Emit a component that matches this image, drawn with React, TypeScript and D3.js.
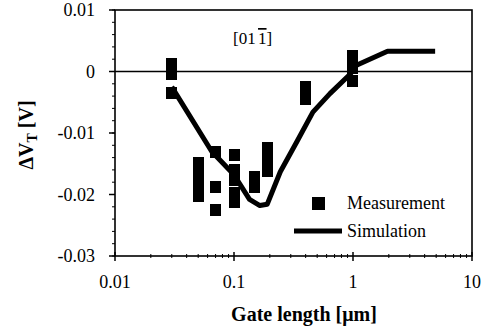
import { useEffect, useRef } from "react";
import * as d3 from "d3";

// measured threshold shift, one entry per square marker
const measGate = [
  0.03, 0.03, 0.03,
  0.05, 0.05, 0.05, 0.05,
  0.07, 0.07, 0.07,
  0.1, 0.1, 0.1, 0.1, 0.1,
  0.15, 0.15,
  0.19, 0.19, 0.19,
  0.4, 0.4,
  1, 1, 1,
];
const measDVt = [
  0.0013, -0.0004, -0.0035,
  -0.0148, -0.0165, -0.0185, -0.0203,
  -0.0131, -0.0188, -0.0225,
  -0.0136, -0.016, -0.0177, -0.0197, -0.0213,
  -0.0172, -0.0187,
  -0.0124, -0.0142, -0.0162,
  -0.0025, -0.0045,
  0.0025, 0.0005, -0.0015,
];

// simulated curve
const simGate = [0.03, 0.065, 0.1, 0.135, 0.165, 0.19, 0.245, 0.34, 0.46, 0.64, 0.95, 1.07, 1.95, 4.9];
const simDVt = [-0.0025, -0.013, -0.0168, -0.0208, -0.0218, -0.0216, -0.0163, -0.0113, -0.0066, -0.0036, -0.0004, 0.001, 0.0033, 0.0033];

const xTicks = [0.01, 0.1, 1, 10];
const xTickLabels = ["0.01", "0.1", "1", "10"];
const yTicks = [0.01, 0, -0.01, -0.02, -0.03];
const yTickLabels = ["0.01", "0", "-0.01", "-0.02", "-0.03"];

const FONT = "'Liberation Serif', 'Times New Roman', serif";

export default function App() {
  const ref = useRef<SVGSVGElement | null>(null);

  useEffect(() => {
    if (!ref.current) return;
    const svg = d3.select(ref.current);
    svg.selectAll("*").remove();

    const left = 115, right = 472, top = 10, bottom = 256;

    const x = d3.scaleLog().domain([0.01, 10]).range([left, right]);
    const y = d3.scaleLinear().domain([-0.03, 0.01]).range([bottom, top]);

    svg.append("rect").attr("width", 484).attr("height", 328).attr("fill", "#fff");

    const g = svg.append("g").attr("stroke", "#000").attr("fill", "none");

    // y minor ticks (every 0.002) and major ticks, outside on the left
    d3.range(-0.03, 0.0101, 0.002).forEach((v) => {
      g.append("line")
        .attr("x1", left - 3).attr("x2", left)
        .attr("y1", y(v)).attr("y2", y(v))
        .attr("stroke-width", 1);
    });
    yTicks.forEach((v) => {
      g.append("line")
        .attr("x1", left - 6).attr("x2", left)
        .attr("y1", y(v)).attr("y2", y(v))
        .attr("stroke-width", 1.5);
    });

    // x minor and major ticks
    [0.01, 0.1, 1].forEach((dec) => {
      d3.range(2, 10).forEach((m) => {
        const v = dec * m;
        g.append("line")
          .attr("x1", x(v)).attr("x2", x(v))
          .attr("y1", bottom - 2).attr("y2", bottom + 2)
          .attr("stroke-width", 1);
      });
    });
    xTicks.forEach((v) => {
      g.append("line")
        .attr("x1", x(v)).attr("x2", x(v))
        .attr("y1", bottom - 4).attr("y2", bottom + 5)
        .attr("stroke-width", 1.5);
    });

    // frame and zero line
    g.append("rect")
      .attr("x", left).attr("y", top)
      .attr("width", right - left).attr("height", bottom - top)
      .attr("stroke-width", 1.6);
    g.append("line")
      .attr("x1", left).attr("x2", right)
      .attr("y1", y(0)).attr("y2", y(0))
      .attr("stroke-width", 1.6);

    // tick labels
    svg.append("g")
      .selectAll("text")
      .data(yTicks)
      .join("text")
      .attr("x", 95)
      .attr("y", (d) => y(d))
      .attr("dy", "0.35em")
      .attr("text-anchor", "end")
      .attr("font-family", FONT)
      .attr("font-size", 18)
      .text((_, i) => yTickLabels[i]);

    svg.append("g")
      .selectAll("text")
      .data(xTicks)
      .join("text")
      .attr("x", (d) => x(d))
      .attr("y", 288)
      .attr("text-anchor", "middle")
      .attr("font-family", FONT)
      .attr("font-size", 18)
      .text((_, i) => xTickLabels[i]);

    // axis titles
    svg.append("text")
      .attr("x", 304).attr("y", 321)
      .attr("text-anchor", "middle")
      .attr("font-family", FONT)
      .attr("font-weight", "bold")
      .attr("font-size", 20)
      .text("Gate length [\u03bcm]");

    const yt = svg.append("text")
      .attr("transform", "translate(33,135) rotate(-90)")
      .attr("text-anchor", "middle")
      .attr("font-family", FONT)
      .attr("font-weight", "bold")
      .attr("font-size", 20);
    yt.append("tspan").text("\u0394V");
    yt.append("tspan").attr("font-size", 14).attr("dy", 4).text("T");
    yt.append("tspan").attr("dy", -4).text(" [V]");

    // orientation label
    const ol = svg.append("text")
      .attr("x", 233).attr("y", 44)
      .attr("font-family", FONT)
      .attr("font-size", 17);
    ol.append("tspan").text("[01");
    ol.append("tspan").attr("dx", 3).attr("text-decoration", "overline").text("1");
    ol.append("tspan").text("]");

    // simulation line
    const simData = simGate.map((l, i) => [l, simDVt[i]] as [number, number]);
    const line = d3.line<[number, number]>()
      .x((d) => x(d[0]))
      .y((d) => y(d[1]));
    svg.append("path")
      .datum(simData)
      .attr("d", line)
      .attr("fill", "none")
      .attr("stroke", "#000")
      .attr("stroke-width", 5)
      .attr("stroke-linejoin", "round");

    // measurement squares
    const sqW = 11, sqH = 12;
    svg.append("g")
      .attr("shape-rendering", "crispEdges")
      .selectAll("rect")
      .data(measGate.map((l, i) => [l, measDVt[i]]))
      .join("rect")
      .attr("x", (d) => Math.round(x(d[0]) - sqW / 2))
      .attr("y", (d) => Math.round(y(d[1]) - sqH / 2))
      .attr("width", sqW)
      .attr("height", sqH)
      .attr("fill", "#000");

    // legend
    const lg = svg.append("g").attr("font-family", FONT).attr("font-size", 18);
    lg.append("rect").attr("x", 312).attr("y", 197).attr("width", 13).attr("height", 13).attr("fill", "#000");
    lg.append("text").attr("x", 347).attr("y", 209).text("Measurement");
    lg.append("line")
      .attr("x1", 294).attr("x2", 342).attr("y1", 231).attr("y2", 231)
      .attr("stroke", "#000").attr("stroke-width", 5);
    lg.append("text").attr("x", 347).attr("y", 237).text("Simulation");
  }, []);

  return (
    <svg
      ref={ref}
      width={484}
      height={328}
      style={{ position: "absolute", left: 0, top: 0 }}
    ></svg>
  );
}
